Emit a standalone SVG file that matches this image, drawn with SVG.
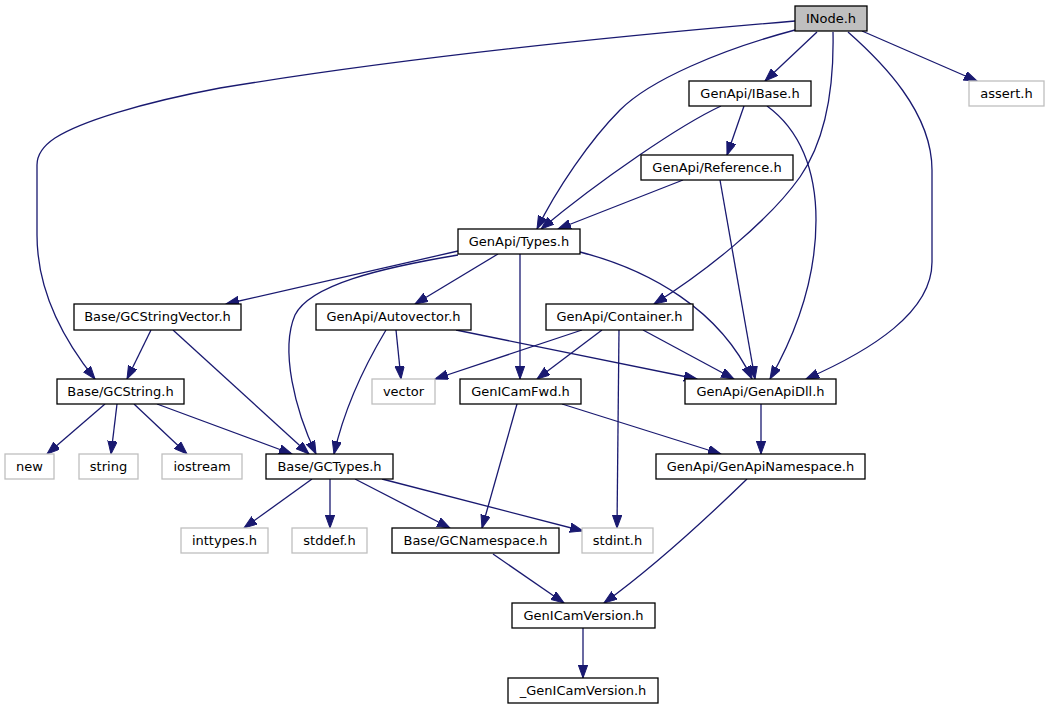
<svg xmlns="http://www.w3.org/2000/svg" width="1050" height="709" viewBox="0 0 1050 709">
<style>
.n rect{fill:#fff;stroke:#000;stroke-width:1.3}
.n.ext rect{stroke:#bfbfbf}
.n.root rect{fill:#bfbfbf}
.n text{font-family:"DejaVu Sans",sans-serif;font-size:13px;fill:#000;text-anchor:middle}
#edges path{fill:none;stroke:#191970;stroke-width:1.3;marker-end:url(#arr)}
</style>
<defs>
<marker id="arr" markerUnits="userSpaceOnUse" markerWidth="14" markerHeight="10" refX="13" refY="4.7" orient="auto">
<path d="M0,0 L13,4.7 L0,9.4 z" fill="#191970" stroke="#191970" stroke-width="1"/>
</marker>
</defs>
<rect width="1050" height="709" fill="#fff"/>
<g id="edges">
<path d="M795,21 C640,34 420,55 220,88 C140,103 80,122 55,138 C43,146 37,155 37,165 L37,235 C37,290 62,338 95,379"/>
<path d="M795,30 C720,50 650,80 620,110 C590,140 556,190 537,229"/>
<path d="M817,32 L765,81"/>
<path d="M833,32 C834,80 829,135 800,177 C768,222 705,272 654,304"/>
<path d="M848,32 C882,62 932,112 932,170 L932,262 C932,312 872,350 806,379"/>
<path d="M862,31 L977,81"/>
<path d="M721,106 C680,125 600,180 541,229"/>
<path d="M744,106 L727,155"/>
<path d="M767,106 C800,130 816,170 816,220 C816,280 795,335 770,379"/>
<path d="M683,180 L558,229"/>
<path d="M720,180 L755,379"/>
<path d="M458,251 L226,304"/>
<path d="M458,255 C380,268 310,285 295,315 C280,350 295,410 316,454"/>
<path d="M498,254 L415,304"/>
<path d="M520,254 L520,379"/>
<path d="M580,252 C650,270 720,310 752,379"/>
<path d="M151,330 L127,379"/>
<path d="M173,330 L309,454"/>
<path d="M396,330 L401,379"/>
<path d="M386,330 C368,360 345,405 334,454"/>
<path d="M456,330 L697,379"/>
<path d="M582,330 L435,379"/>
<path d="M602,330 L537,379"/>
<path d="M619,330 L617,528"/>
<path d="M643,330 L734,379"/>
<path d="M105,404 L47,454"/>
<path d="M117,404 L111,454"/>
<path d="M134,404 L187,454"/>
<path d="M157,404 L292,454"/>
<path d="M517,404 L482,528"/>
<path d="M562,404 L721,454"/>
<path d="M761,404 L761,454"/>
<path d="M312,479 L244,528"/>
<path d="M330,479 L330,528"/>
<path d="M355,479 L450,528"/>
<path d="M382,479 L583,531"/>
<path d="M747,479 C712,513 655,566 604,603"/>
<path d="M493,554 L564,603"/>
<path d="M583,628 L583,678"/>
</g>
<g id="n_inode" class="n root"><rect x="795" y="6" width="72" height="25"/><text x="831" y="23">INode.h</text></g>
<g id="n_ibase" class="n"><rect x="689" y="81" width="122" height="25"/><text x="750" y="98">GenApi/IBase.h</text></g>
<g id="n_assert" class="n ext"><rect x="969" y="81" width="75" height="25"/><text x="1006.5" y="98">assert.h</text></g>
<g id="n_reference" class="n"><rect x="641" y="155" width="152" height="25"/><text x="717" y="172">GenApi/Reference.h</text></g>
<g id="n_types" class="n"><rect x="458" y="229" width="122" height="25"/><text x="519" y="246">GenApi/Types.h</text></g>
<g id="n_gcstringvector" class="n"><rect x="74" y="304" width="167" height="26"/><text x="157.5" y="321">Base/GCStringVector.h</text></g>
<g id="n_autovector" class="n"><rect x="316" y="304" width="155" height="26"/><text x="393.5" y="321">GenApi/Autovector.h</text></g>
<g id="n_container" class="n"><rect x="546" y="304" width="147" height="26"/><text x="619.5" y="321">GenApi/Container.h</text></g>
<g id="n_gcstring" class="n"><rect x="57" y="379" width="127" height="25"/><text x="120.5" y="396">Base/GCString.h</text></g>
<g id="n_vector" class="n ext"><rect x="372" y="379" width="63" height="25"/><text x="403.5" y="396">vector</text></g>
<g id="n_genicamfwd" class="n"><rect x="460" y="379" width="121" height="25"/><text x="520.5" y="396">GenICamFwd.h</text></g>
<g id="n_genapidll" class="n"><rect x="685" y="379" width="151" height="25"/><text x="760.5" y="396">GenApi/GenApiDll.h</text></g>
<g id="n_new" class="n ext"><rect x="5" y="454" width="49" height="25"/><text x="29.5" y="471">new</text></g>
<g id="n_string" class="n ext"><rect x="79" y="454" width="59" height="25"/><text x="108.5" y="471">string</text></g>
<g id="n_iostream" class="n ext"><rect x="162" y="454" width="80" height="25"/><text x="202" y="471">iostream</text></g>
<g id="n_gctypes" class="n"><rect x="266" y="454" width="127" height="25"/><text x="329.5" y="471">Base/GCTypes.h</text></g>
<g id="n_genapinamespace" class="n"><rect x="656" y="454" width="209" height="25"/><text x="760.5" y="471">GenApi/GenApiNamespace.h</text></g>
<g id="n_inttypes" class="n ext"><rect x="181" y="528" width="87" height="25"/><text x="224.5" y="545">inttypes.h</text></g>
<g id="n_stddef" class="n ext"><rect x="292" y="528" width="75" height="25"/><text x="329.5" y="545">stddef.h</text></g>
<g id="n_gcnamespace" class="n"><rect x="392" y="528" width="167" height="25"/><text x="475.5" y="545">Base/GCNamespace.h</text></g>
<g id="n_stdint" class="n ext"><rect x="582" y="528" width="71" height="25"/><text x="617.5" y="545">stdint.h</text></g>
<g id="n_genicamversion" class="n"><rect x="512" y="603" width="143" height="25"/><text x="583.5" y="620">GenICamVersion.h</text></g>
<g id="n_genicamversion2" class="n"><rect x="508" y="678" width="150" height="25"/><text x="583" y="695">_GenICamVersion.h</text></g>
</svg>
